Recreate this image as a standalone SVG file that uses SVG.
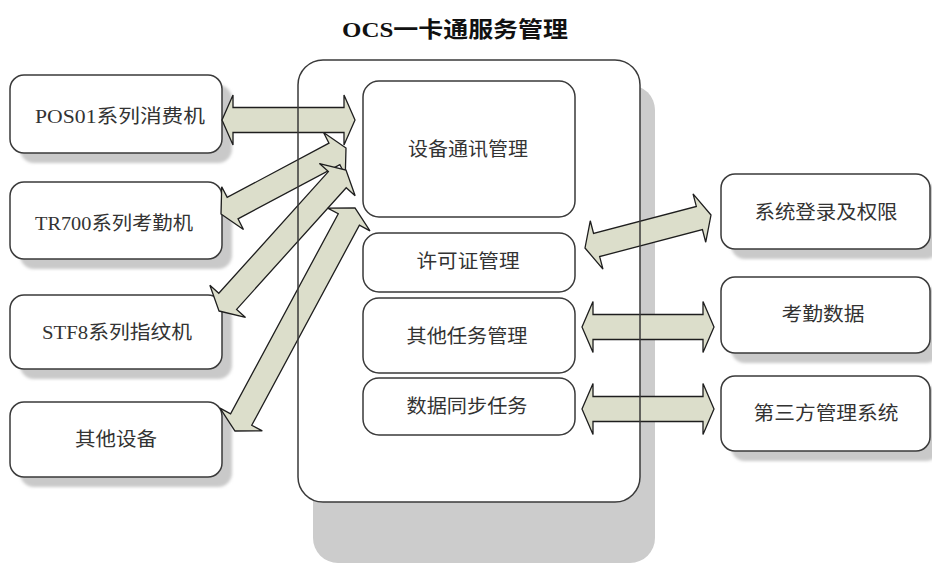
<svg xmlns="http://www.w3.org/2000/svg" width="932" height="564" viewBox="0 0 932 564">
<defs>
<filter id="blur" x="-10%" y="-10%" width="120%" height="130%"><feGaussianBlur stdDeviation="1.5"/></filter>
<style>
.box{fill:#fff;stroke:#3a3a3a;stroke-width:1.5}
.sh{fill:#c9c9c9;filter:url(#blur)}
.arr{fill:#dcdecb;stroke:#1e1e1e;stroke-width:1.3;stroke-linejoin:miter}
.t{font-family:"Liberation Serif","Noto Sans CJK SC",serif;font-size:19px;fill:#333;text-anchor:middle}
.title{font-family:"Liberation Serif","Noto Sans CJK SC",serif;font-size:22px;font-weight:bold;fill:#111;text-anchor:middle}
</style>
</defs>
<rect width="932" height="564" fill="#fff"/>
<text class="title" x="455" y="37" textLength="226" lengthAdjust="spacingAndGlyphs">OCS一卡通服务管理</text>

<g id="pos01">
<rect class="sh" x="20" y="85" width="212" height="78" rx="14"/>
<rect class="box" x="10" y="75" width="212" height="78" rx="14"/>
<text class="t" x="120" y="123" textLength="170" lengthAdjust="spacingAndGlyphs">POS01系列消费机</text>
</g>
<g id="tr700">
<rect class="sh" x="20" y="192" width="212" height="77" rx="14"/>
<rect class="box" x="10" y="182" width="212" height="77" rx="14"/>
<text class="t" x="114" y="230" textLength="158" lengthAdjust="spacingAndGlyphs">TR700系列考勤机</text>
</g>
<g id="stf8">
<rect class="sh" x="20" y="305" width="212" height="74" rx="14"/>
<rect class="box" x="10" y="295" width="212" height="74" rx="14"/>
<text class="t" x="117" y="339" textLength="150" lengthAdjust="spacingAndGlyphs">STF8系列指纹机</text>
</g>
<g id="other-dev">
<rect class="sh" x="20" y="412" width="212" height="75" rx="14"/>
<rect class="box" x="10" y="402" width="212" height="75" rx="14"/>
<text class="t" x="116" y="446" textLength="82" lengthAdjust="spacingAndGlyphs">其他设备</text>
</g>
<g id="login">
<rect class="sh" x="731" y="184" width="209" height="75" rx="14"/>
<rect class="box" x="721" y="174" width="209" height="75" rx="14"/>
<text class="t" x="826" y="219" textLength="143" lengthAdjust="spacingAndGlyphs">系统登录及权限</text>
</g>
<g id="attendance">
<rect class="sh" x="731" y="287" width="209" height="76" rx="14"/>
<rect class="box" x="721" y="277" width="209" height="76" rx="14"/>
<text class="t" x="823" y="321" textLength="83" lengthAdjust="spacingAndGlyphs">考勤数据</text>
</g>
<g id="third">
<rect class="sh" x="731" y="386" width="209" height="75" rx="14"/>
<rect class="box" x="721" y="376" width="209" height="75" rx="14"/>
<text class="t" x="826" y="420" textLength="145" lengthAdjust="spacingAndGlyphs">第三方管理系统</text>
</g>

<g id="ocs-main">
<rect x="313" y="85" width="342" height="478" rx="25" fill="#cccccc"/>
<rect x="298" y="60" width="342" height="442" rx="25" fill="#fff"/>
</g>

<g id="connectors">
<polygon class="arr" points="222,120 233,145 233,132.5 344,132.5 344,145 355,120 344,95 344,107.5 233,107.5 233,95"/>
<polygon class="arr" points="221,214 243.46,229.51 238.02,218.81 339.84,164.59 345.28,175.29 346,148 323.54,132.49 328.98,143.19 227.16,197.41 221.72,186.71"/>
<polygon class="arr" points="219,311 245.53,317.4 236.62,309.37 346.22,187.69 355.13,195.72 346,170 319.47,163.6 328.38,171.63 218.78,293.31 209.87,285.28"/>
<polygon class="arr" points="235,431 262.29,430.92 251.73,425.24 359.41,225.14 369.97,230.82 355,208 327.71,208.08 338.27,213.76 230.59,413.86 220.03,408.18"/>
<polygon class="arr" points="585,248 602.95,269.15 599.65,256.57 702.43,229.65 705.73,242.23 711,215 693.05,193.85 696.35,206.43 593.57,233.35 590.27,220.77"/>
<polygon class="arr" points="582,327 593,352.5 593,339.5 703,339.5 703,352.5 714,327 703,301.5 703,314.5 593,314.5 593,301.5"/>
<polygon class="arr" points="582,409 593,434.5 593,421.5 703,421.5 703,434.5 714,409 703,383.5 703,396.5 593,396.5 593,383.5"/>
</g>

<g id="ocs-border">
<rect x="298" y="60" width="342" height="442" rx="25" fill="none" stroke="#3a3a3a" stroke-width="1.5"/>
</g>

<g id="comm">
<rect class="box" x="363" y="81" width="212" height="136" rx="16"/>
<text class="t" x="468" y="156" textLength="120" lengthAdjust="spacingAndGlyphs">设备通讯管理</text>
</g>
<g id="license">
<rect class="box" x="363" y="233" width="212" height="59" rx="16"/>
<text class="t" x="468" y="268" textLength="103" lengthAdjust="spacingAndGlyphs">许可证管理</text>
</g>
<g id="tasks">
<rect class="box" x="363" y="298" width="212" height="75" rx="16"/>
<text class="t" x="467" y="343" textLength="121" lengthAdjust="spacingAndGlyphs">其他任务管理</text>
</g>
<g id="sync">
<rect class="box" x="363" y="378" width="212" height="57" rx="16"/>
<text class="t" x="467" y="413" textLength="121" lengthAdjust="spacingAndGlyphs">数据同步任务</text>
</g>
</svg>
